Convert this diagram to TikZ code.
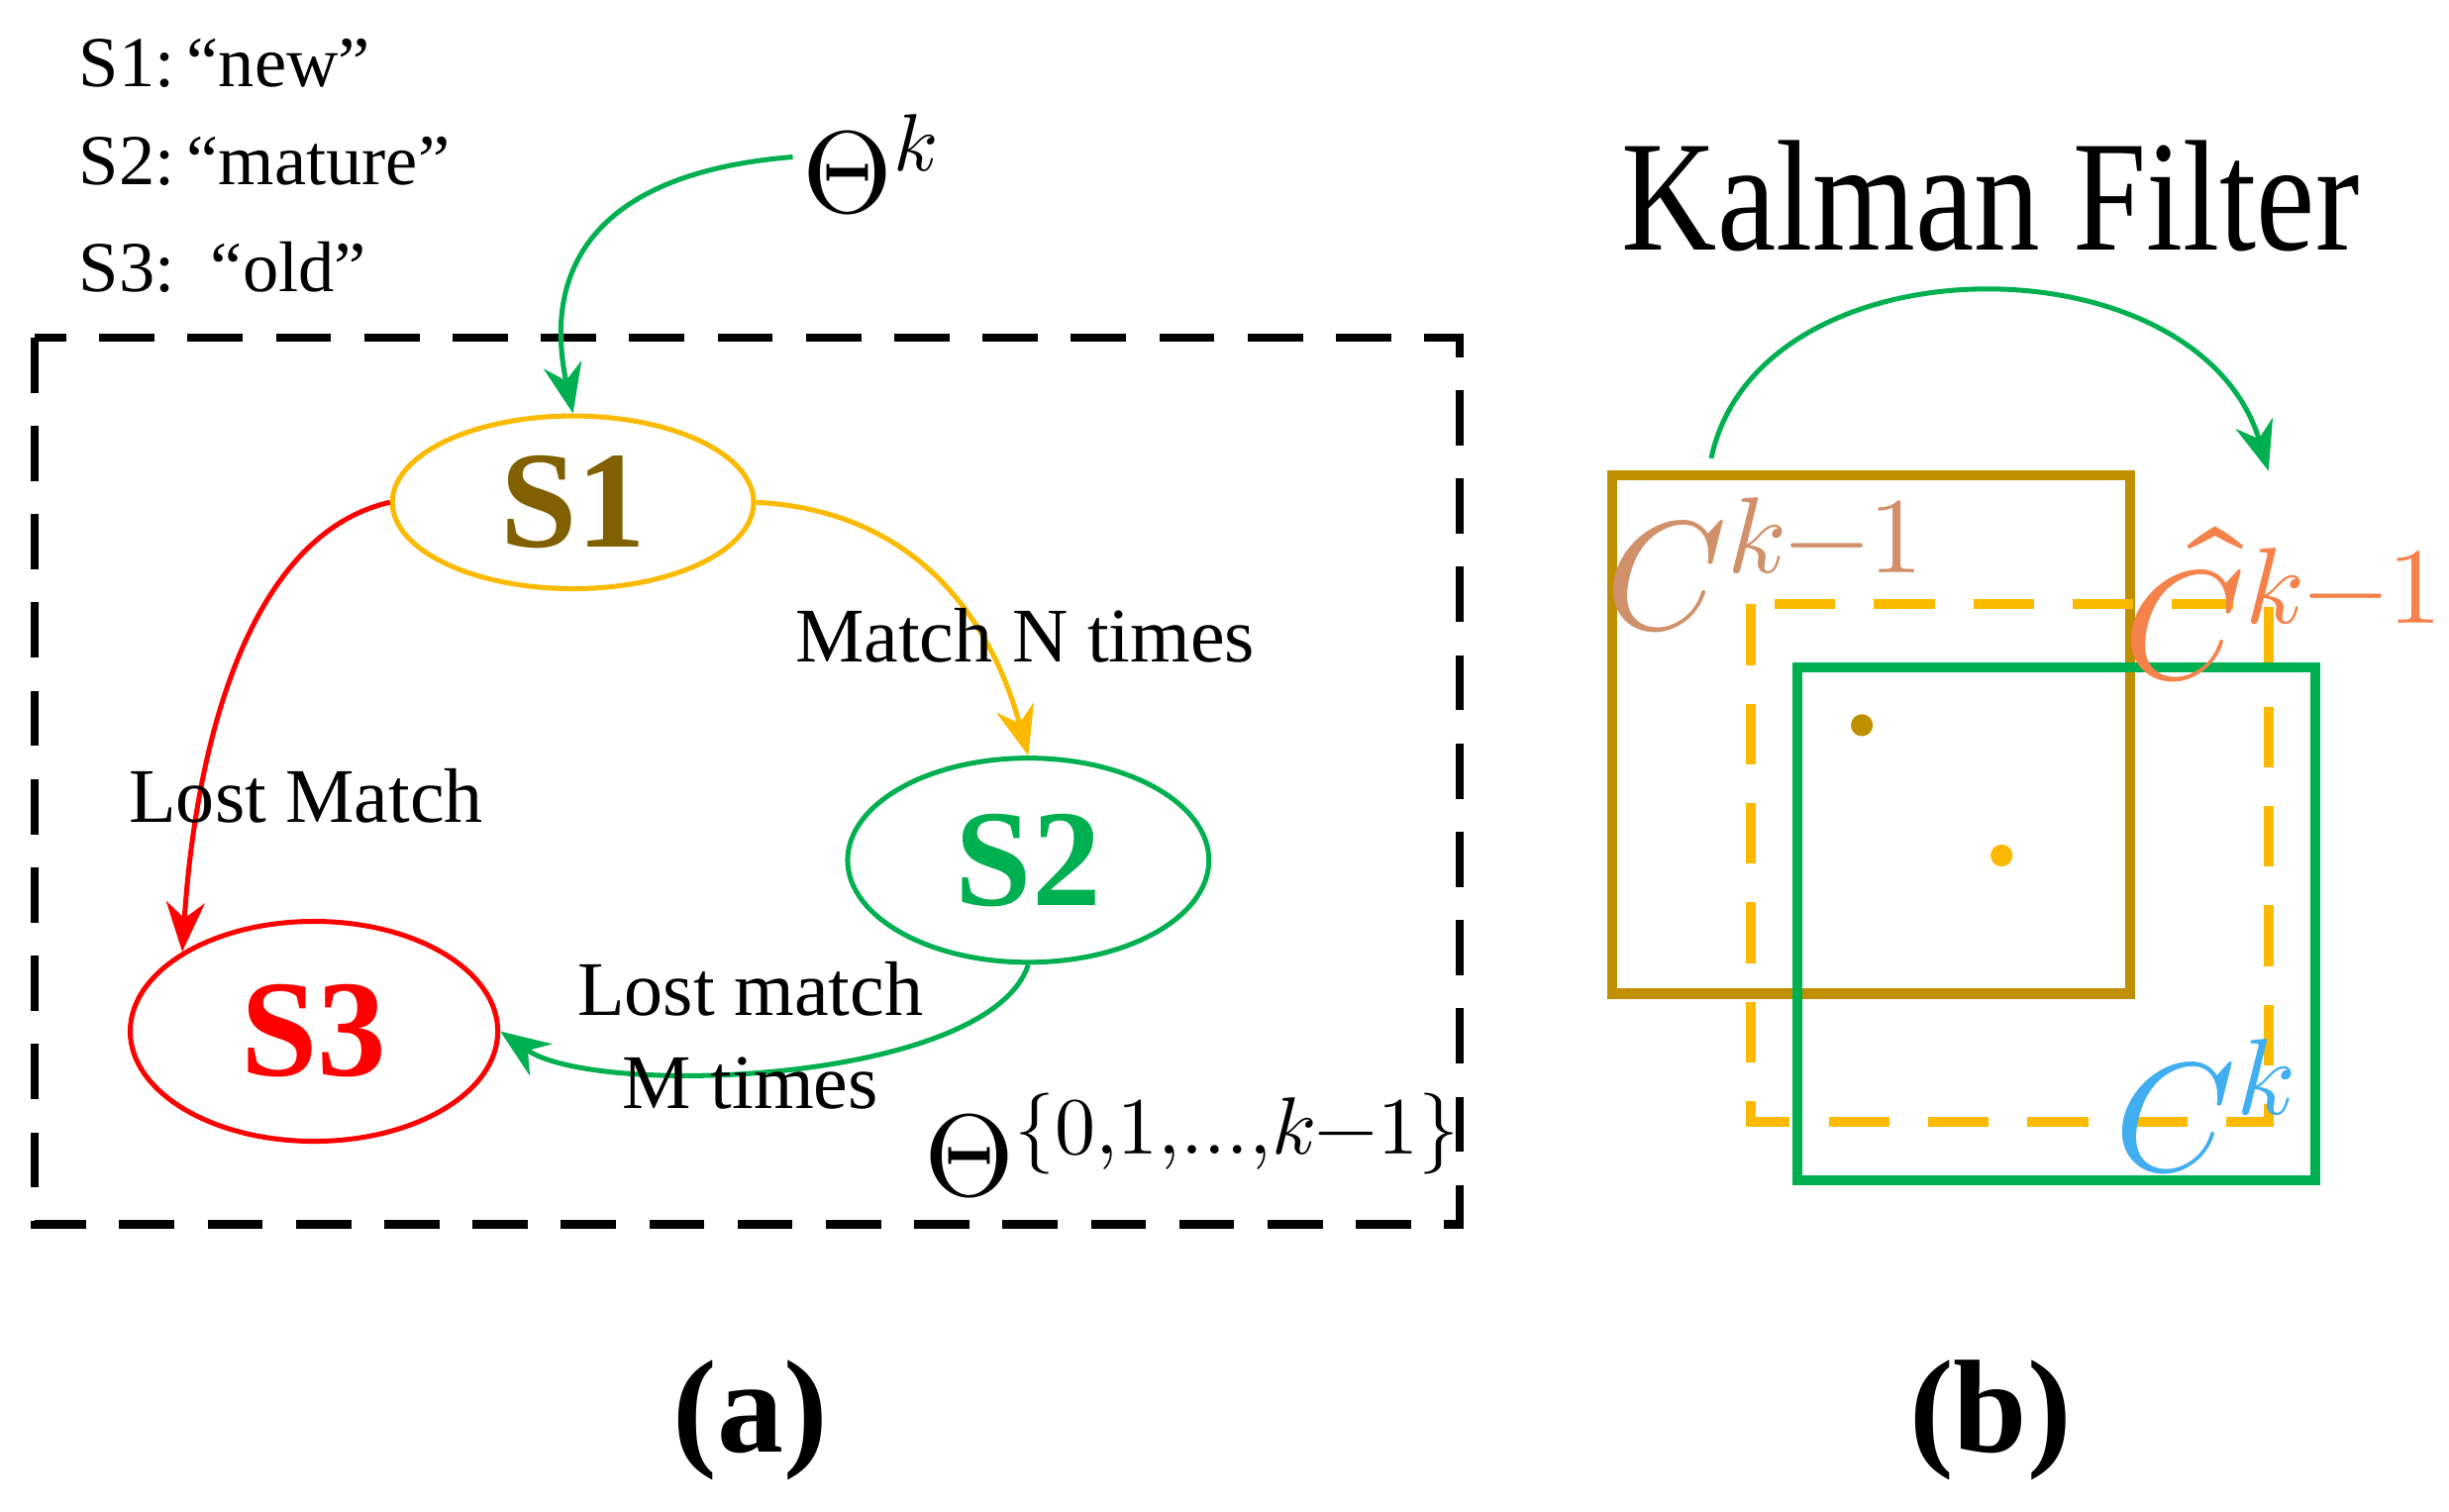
\documentclass[tikz,border=0pt]{standalone}
\usepackage{fontspec}
\setmainfont{Liberation Serif}
\usepackage{unicode-math}
\setmathfont{Latin Modern Math}
\usetikzlibrary{arrows.meta,shapes.geometric}
\definecolor{cor}{HTML}{FBBA00}
\definecolor{cgr}{HTML}{00B050}
\definecolor{crd}{HTML}{FF0000}
\definecolor{col}{HTML}{806000}
\definecolor{cbr}{HTML}{BF8F00}
\definecolor{ctan}{HTML}{D0906A}
\definecolor{corg}{HTML}{F4824A}
\definecolor{cbl}{HTML}{40AEF0}
\newcommand{\fs}[1]{\fontsize{#1}{#1}\selectfont}
\begin{document}
\begin{tikzpicture}[x=0.01cm,y=-0.01cm,
  st/.style={ellipse,line width=0.9pt,inner sep=0pt,font=\fs{25}\bfseries},
  arr/.style={line width=0.9pt,-{Stealth[length=9pt,width=7pt]}},
  lbl/.style={font=\fs{14}},
  sq/.style={line width=1.8pt}]
\useasboundingbox (0,0) rectangle (1560,963);
\node[anchor=west,font=\fs{13}] (l1) at (38,40) {S1:\,“new”};
\node[anchor=west,font=\fs{13}] (l2) at (38,103) {S2:\,“mature”};
\node[anchor=west,font=\fs{13}] (l3) at (38,170) {S3:\, “old”};
\node[font=\fs{21}] (tk) at (555,105) {$\Theta^{k}$};
\draw[line width=1.5pt,dash pattern=on 10pt off 6pt] (22,215) rectangle (930,780);
\node[st,draw=cor,minimum width=2.3cm,minimum height=1.1cm,text=col] (s1) at (365,320) {S1};
\node[st,draw=cgr,minimum width=2.3cm,minimum height=1.3cm,text=cgr] (s2) at (655,548) {S2};
\node[st,draw=crd,minimum width=2.34cm,minimum height=1.4cm,text=crd] (s3) at (200,657) {S3};
\coordinate (tks) at (505,100);
\draw[arr,cgr] (tks) .. controls (380,110) and (345,170) .. (s1.north);
\draw[arr,cor] (s1.east) .. controls (580,325) and (630,390) .. (s2.north);
\draw[arr,crd] (s1.west) .. controls (160,340) and (125,470) .. (s3.north west);
\draw[arr,cgr] (s2.south) .. controls (630,690) and (380,700) .. (s3.east);
\node[lbl] (m1) at (653,405) {Match N times};
\node[lbl] (m2) at (195,507) {Lost Match};
\node[lbl] (m3) at (478,630) {Lost match};
\node[lbl] (m4) at (478,690) {M times};
\node[font=\fs{21}] (th) at (760,730) {$\Theta^{\{0,1,\ldots,k-1\}}$};
\node[font=\fs{24}\bfseries] (a) at (478,905) {(a)};
\node[font=\fs{24}\bfseries] (b) at (1268,905) {(b)};
\node[font=\fs{26},yscale=1.1,xscale=0.92] (kf) at (1268,125) {Kalman Filter};
\draw[sq,cbr] (1027,303) rectangle (1357,633);
\draw[sq,cor,dash pattern=on 11pt off 7pt] (1115,385) rectangle (1445,715);
\draw[sq,cgr] (1145,425) rectangle (1475,752);
\fill[cbr] (1186,462) circle (7);
\fill[cor] (1275,545) circle (7);
\node[font=\fs{28},text=ctan] (c1) at (1125,360) {$C^{k-1}$};
\node[font=\fs{28},text=corg] (c2) at (1455,385) {$\hat{C}^{k-1}$};
\node[font=\fs{28},text=cbl] (c3) at (1405,705) {$C^{k}$};
\coordinate (ks) at (1090,292);
\coordinate (ke) at (1445,300);
\draw[arr,cgr] (ks) .. controls (1120,150) and (1400,150) .. (ke);
\end{tikzpicture}
\end{document}
